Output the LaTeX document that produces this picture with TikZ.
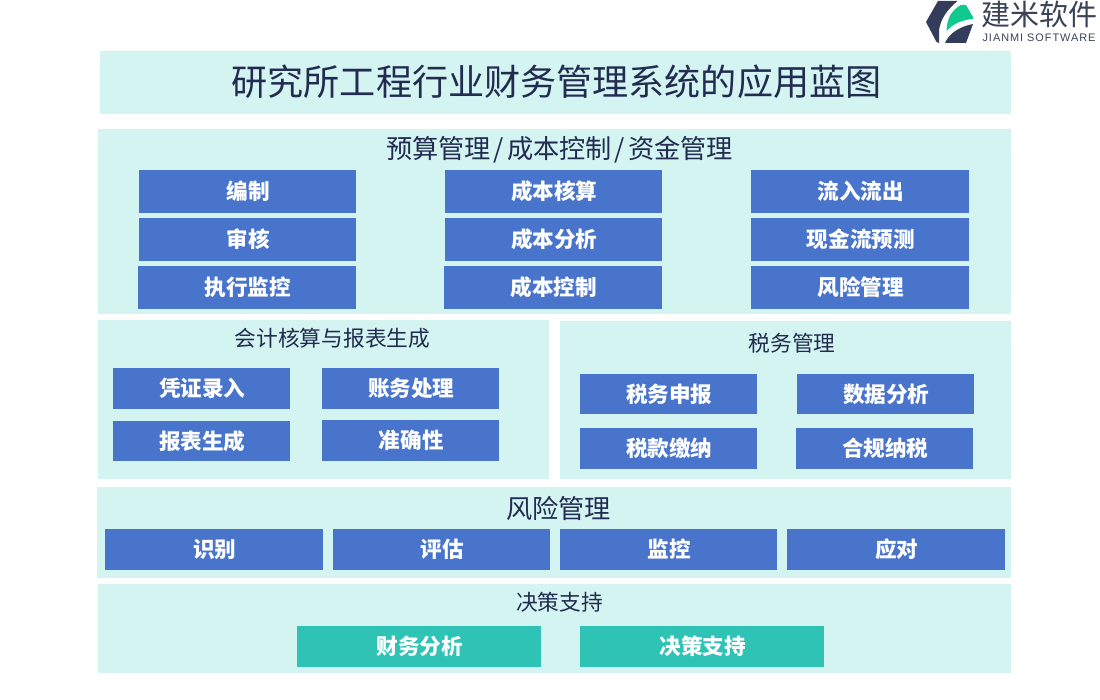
\documentclass[tikz,border=0pt]{standalone}
\usepackage{fontspec}
\setmainfont{Noto Sans CJK SC}
\newfontfamily\latinfont[LetterSpace=9]{Liberation Sans}
\definecolor{panelc}{HTML}{D3F4F1}
\definecolor{bluec}{HTML}{4874CB}
\definecolor{tealc}{HTML}{2EC3B5}
\definecolor{inkc}{HTML}{222B50}
\definecolor{logod}{HTML}{333C5A}
\definecolor{logog}{HTML}{0FC98F}
\definecolor{logot}{HTML}{3A4258}
\tikzset{
  x=1pt,y=-1pt,
  base/.style={inner sep=0pt,outer sep=0pt,anchor=center},
  panel/.style={base,fill=panelc},
  bluebox/.style={base,fill=bluec,text=white,font=\fontsize{21.6}{24}\selectfont\bfseries},
  tealbox/.style={base,fill=tealc,text=white,font=\fontsize{21.6}{24}\selectfont\bfseries},
  head/.style={base,text=inkc},
  headL/.style={head,font=\fontsize{26.2}{30}\selectfont},
  headS/.style={head,font=\fontsize{21.7}{25}\selectfont},
}
% name, x0, y0, x1, y1, style, text
\newcommand{\bx}[7]{%
  \pgfmathsetmacro{\myw}{#4-#2}\pgfmathsetmacro{\myh}{#5-#3}%
  \pgfmathsetmacro{\mycx}{(#2+#4)/2}\pgfmathsetmacro{\mycy}{(#3+#5)/2}%
  \node[#6,minimum width=\myw pt,minimum height=\myh pt] (#1) at (\mycx,\mycy) {\hspace*{1.6pt}#7};}
\newcommand{\slashgap}{\hspace{3pt}/\hspace{3pt}}
\begin{document}
\begin{tikzpicture}
\useasboundingbox (0,0) rectangle (1100,700);
% logo
\fill[logod] (926,22) -- (938,1) -- (957.5,1) .. controls (947,10) and (941,18) .. (939,30) -- (939,43) -- (936.5,42) -- cycle;
\fill[logod] (945,43) -- (966,43) -- (973,24) .. controls (958,27) and (949,34) .. (945,43) -- cycle;
\fill[logog] (946.5,31) .. controls (947,20) and (950,11) .. (961,5) -- (966,5) -- (973,17) -- (973,19) .. controls (961,20) and (953,24) .. (946.5,31) -- cycle;
\node[base,text=logot,font=\fontsize{29}{30}\selectfont] (logoa) at (1039.5,14) {建米软件};
\node[base,text=logot,font=\latinfont\fontsize{10.9}{12}\selectfont] (logob) at (1039,38) {JIANMI SOFTWARE};
% title
\bx{tp}{100}{51}{1011}{114}{panel}{}
\node[head,font=\fontsize{36.1}{40}\selectfont] (title) at (556.5,82) {研究所工程行业财务管理系统的应用蓝图};
% budget
\bx{p1}{98}{129}{1011}{314}{panel}{}
\node[headL] (h1) at (559.5,150) {预算管理\slashgap 成本控制\slashgap 资金管理};
\bx{a1}{139}{170}{356}{213}{bluebox}{编制}
\bx{a2}{139}{218}{356}{261}{bluebox}{审核}
\bx{a3}{138}{266}{356}{309}{bluebox}{执行监控}
\bx{b1}{445}{170}{662}{213}{bluebox}{成本核算}
\bx{b2}{445}{218}{662}{261}{bluebox}{成本分析}
\bx{b3}{444}{266}{662}{309}{bluebox}{成本控制}
\bx{c1}{751}{170}{969}{213}{bluebox}{流入流出}
\bx{c2}{751}{218}{969}{261}{bluebox}{现金流预测}
\bx{c3}{751}{266}{969}{309}{bluebox}{风险管理}
% accounting
\bx{p2}{98}{320}{549}{479}{panel}{}
\node[headS] (h2) at (332.5,338) {会计核算与报表生成};
\bx{d1}{113}{368}{290}{409}{bluebox}{凭证录入}
\bx{d2}{322}{368}{499}{409}{bluebox}{账务处理}
\bx{d3}{113}{421}{290}{461}{bluebox}{报表生成}
\bx{d4}{322}{420}{499}{461}{bluebox}{准确性}
% tax
\bx{p3}{560}{321}{1011}{479}{panel}{}
\node[headS] (h3) at (792,343) {税务管理};
\bx{e1}{580}{374}{757}{414}{bluebox}{税务申报}
\bx{e2}{797}{374}{974}{414}{bluebox}{数据分析}
\bx{e3}{580}{428}{757}{469}{bluebox}{税款缴纳}
\bx{e4}{796}{428}{973}{469}{bluebox}{合规纳税}
% risk
\bx{p4}{97}{487}{1011}{578}{panel}{}
\node[headL] (h4) at (558.5,508) {风险管理};
\bx{f1}{105}{529}{323}{570}{bluebox}{识别}
\bx{f2}{333}{529}{550}{570}{bluebox}{评估}
\bx{f3}{560}{529}{777}{570}{bluebox}{监控}
\bx{f4}{787}{529}{1005}{570}{bluebox}{应对}
% decision
\bx{p5}{98}{584}{1011}{673}{panel}{}
\node[headS] (h5) at (559.5,602) {决策支持};
\bx{g1}{297}{626}{541}{667}{tealbox}{财务分析}
\bx{g2}{580}{626}{824}{667}{tealbox}{决策支持}
\end{tikzpicture}
\end{document}
